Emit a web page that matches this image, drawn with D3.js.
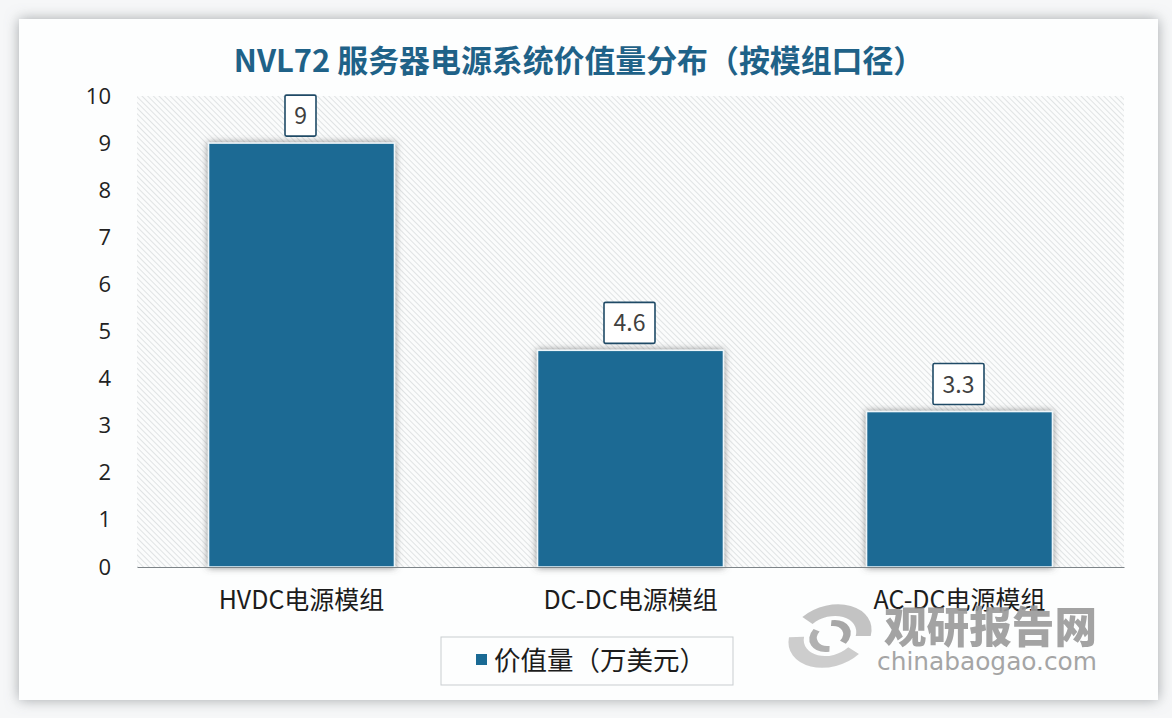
<!DOCTYPE html>
<html lang="zh">
<head>
<meta charset="utf-8" />
<script src="https://cdnjs.cloudflare.com/ajax/libs/d3/7.8.5/d3.min.js"></script>
<style>
html, body { margin: 0; padding: 0; background: #f6f7f8; overflow: hidden; }
text { font-family: "Noto Sans CJK SC", "Open Sans", sans-serif; }
</style>
</head>
<body>
<div id="chart"></div>
<script>
const titleText = 'NVL72 服务器电源系统价值量分布（按模组口径）';
const categories = ['HVDC电源模组', 'DC-DC电源模组', 'AC-DC电源模组'];
const values = [9, 4.6, 3.3];
const valueLabels = ['9', '4.6', '3.3'];
const yTicks = [0, 1, 2, 3, 4, 5, 6, 7, 8, 9, 10];
const legendLabel = '价值量（万美元）';

const width = 1172;
const height = 718;
const margin = { top: 96, bottom: 151, left: 137, right: 48 };
const blue = '#1a6a94';

const svg = d3.select('#chart').append('svg')
    .attr('width', width)
    .attr('height', height)
    .style('display', 'block');

const defs = svg.append('defs');
const hatch = defs.append('pattern')
    .attr('id', 'hatch')
    .attr('width', 4)
    .attr('height', 4)
    .attr('patternUnits', 'userSpaceOnUse')
    .attr('patternTransform', 'rotate(-45)');
hatch.append('rect').attr('width', 4).attr('height', 4).attr('fill', '#fbfcfc');
hatch.append('line')
    .attr('x1', 0).attr('y1', 0).attr('x2', 0).attr('y2', 4)
    .attr('stroke', '#d8dbdd').attr('stroke-width', 1.5);

const cardShadow = defs.append('filter').attr('id', 'cardShadow')
    .attr('x', '-5%').attr('y', '-5%').attr('width', '110%').attr('height', '110%');
cardShadow.append('feDropShadow')
    .attr('dx', 0).attr('dy', 0).attr('stdDeviation', 7)
    .attr('flood-color', '#7f8488').attr('flood-opacity', 0.7);

const barShadow = defs.append('filter').attr('id', 'barShadow')
    .attr('x', '-10%').attr('y', '-10%').attr('width', '120%').attr('height', '120%');
barShadow.append('feDropShadow')
    .attr('dx', 0).attr('dy', 0).attr('stdDeviation', 3.5)
    .attr('flood-color', '#555').attr('flood-opacity', 0.7);

// card
svg.append('rect')
    .attr('x', 19).attr('y', 19)
    .attr('width', 1139).attr('height', 681)
    .attr('fill', '#fdfefe')
    .attr('filter', 'url(#cardShadow)');

svg.append('text')
    .attr('x', 579).attr('y', 72)
    .attr('text-anchor', 'middle')
    .attr('font-size', 30.9)
    .attr('font-weight', 700)
    .attr('fill', '#1f6288')
    .text(titleText);

// scales
const x = d3.scaleBand()
    .domain(categories)
    .range([margin.left, width - margin.right])
    .paddingInner(0.435)
    .paddingOuter(0.2175);
const y = d3.scaleLinear()
    .domain([0, 10])
    .range([height - margin.bottom, margin.top]);

svg.append('rect')
    .attr('x', margin.left).attr('y', margin.top)
    .attr('width', width - margin.left - margin.right)
    .attr('height', height - margin.top - margin.bottom)
    .attr('fill', 'url(#hatch)');

// bars
svg.selectAll('rect.bar')
    .data(values)
    .enter()
    .append('rect')
    .attr('class', 'bar')
    .attr('x', (d, i) => x(categories[i]))
    .attr('y', (d) => y(d))
    .attr('width', x.bandwidth())
    .attr('height', (d) => y(0) - y(d))
    .attr('fill', blue)
    .attr('stroke', '#eef6fa')
    .attr('stroke-width', 1.5)
    .attr('filter', 'url(#barShadow)');

// value labels
const labelWidths = [31, 51, 51];
const labels = svg.selectAll('g.value')
    .data(values)
    .enter()
    .append('g')
    .attr('class', 'value')
    .attr('transform', (d, i) => `translate(${x(categories[i]) + x.bandwidth() / 2 - 1}, ${y(d) - 28})`);
labels.append('rect')
    .attr('x', (d, i) => -labelWidths[i] / 2)
    .attr('y', -20)
    .attr('width', (d, i) => labelWidths[i])
    .attr('height', 41)
    .attr('rx', 1.5)
    .attr('fill', '#ffffff')
    .attr('stroke', '#1f4a66')
    .attr('stroke-width', 1.6);
labels.append('text')
    .attr('y', 9)
    .attr('text-anchor', 'middle')
    .attr('font-size', 23)
    .attr('fill', '#404040')
    .text((d, i) => valueLabels[i]);

// axes
const yAxis = svg.append('g')
    .attr('transform', `translate(${margin.left}, 0)`)
    .call(d3.axisLeft(y).tickValues(yTicks).tickSize(0).tickPadding(26));
yAxis.select('.domain').remove();
yAxis.selectAll('text')
    .attr('font-size', 22)
    .attr('fill', '#222')
    .style('font-family', '"Open Sans", sans-serif');

const xAxis = svg.append('g')
    .attr('transform', `translate(0, ${y(0)})`)
    .call(d3.axisBottom(x).tickSize(0).tickPadding(24));
xAxis.select('.domain').attr('stroke', '#7d8488').attr('stroke-width', 1.2);
xAxis.selectAll('text')
    .attr('font-size', 25)
    .attr('fill', '#1c1c1c');

// legend
svg.append('rect')
    .attr('x', 441).attr('y', 637)
    .attr('width', 292).attr('height', 48)
    .attr('fill', '#fdfefe')
    .attr('stroke', '#c9cdd0');
svg.append('rect')
    .attr('x', 476).attr('y', 654)
    .attr('width', 11).attr('height', 11)
    .attr('fill', blue);
svg.append('text')
    .attr('x', 494).attr('y', 670)
    .attr('font-size', 26.5)
    .attr('fill', '#1c1c1c')
    .text(legendLabel);

// watermark
const wm = svg.append('g').attr('class', 'watermark');
const arc = d3.arc();
const logoArcs = [
    { innerRadius: 24, outerRadius: 38, startAngle: -0.5, endAngle: 2.0, fill: '#bdbdbd' },
    { innerRadius: 24, outerRadius: 38, startAngle: 2.6, endAngle: 5.1, fill: '#c8c8c8' },
    { innerRadius: 12, outerRadius: 19, startAngle: 0.3, endAngle: 2.5, fill: '#9d9d9d' },
    { innerRadius: 12, outerRadius: 19, startAngle: 3.4, endAngle: 5.6, fill: '#a8a8a8' }
];
wm.selectAll('path')
    .data(logoArcs)
    .enter()
    .append('path')
    .attr('transform', 'translate(830, 636) rotate(-18) scale(1.12, 0.8)')
    .attr('d', (d) => arc(d))
    .attr('fill', (d) => d.fill)
    .attr('opacity', 0.9);
wm.append('text')
    .attr('x', 884).attr('y', 643)
    .attr('textLength', 213)
    .attr('lengthAdjust', 'spacingAndGlyphs')
    .attr('font-size', 43)
    .attr('font-weight', 900)
    .attr('fill', '#9a9a9a')
    .attr('opacity', 0.9)
    .text('观研报告网');
wm.append('text')
    .attr('x', 877).attr('y', 670)
    .attr('textLength', 220)
    .attr('lengthAdjust', 'spacingAndGlyphs')
    .attr('font-size', 24)
    .attr('fill', '#a5a5a5')
    .style('font-family', '"DejaVu Sans", sans-serif')
    .text('chinabaogao.com');
</script>
</body>
</html>
